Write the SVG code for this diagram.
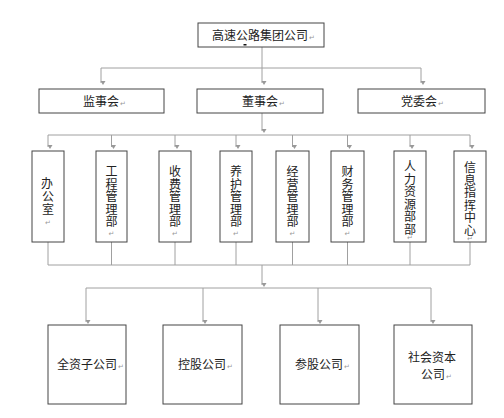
<svg xmlns="http://www.w3.org/2000/svg" width="504" height="418" viewBox="0 0 504 418">
<style>
.box{fill:#fff;stroke:#444;stroke-width:1}
.ln{fill:none;stroke:#a0a0a0;stroke-width:1}
.ar{fill:none;stroke:#a0a0a0;stroke-width:1;marker-end:url(#ah)}
.t{font-family:"Noto Sans CJK SC","Liberation Sans",sans-serif;font-size:12px;fill:#222}
.m{font-family:"DejaVu Sans",sans-serif;font-size:7px;fill:#999}
</style>
<defs>
<marker id="ah" markerUnits="userSpaceOnUse" markerWidth="6" markerHeight="6" refX="3" refY="5" orient="auto-start-reverse" viewBox="0 0 6 6">
<path d="M0.5,1 L5.5,1 L3,5 Z" fill="#999" transform="rotate(-90 3 3)"/>
</marker>
</defs>
<rect width="504" height="418" fill="#fff"/>
<g id="connectors">
<path class="ln" d="M262,47 V68 M101,68 H421"/>
<path class="ar" d="M101,68 V83"/>
<path class="ar" d="M262,68 V83"/>
<path class="ar" d="M421,68 V83"/>
<path class="ar" d="M262,113 V131"/>
<path class="ln" d="M48,135 H470"/>
<path class="ar" d="M48,135 V147"/>
<path class="ar" d="M111.5,135 V147"/>
<path class="ar" d="M175,135 V147"/>
<path class="ar" d="M236,135 V147"/>
<path class="ar" d="M292.5,135 V147"/>
<path class="ar" d="M347.5,135 V147"/>
<path class="ar" d="M410,135 V147"/>
<path class="ar" d="M470,135 V147"/>
<path class="ln" d="M48,242 V265 M111.5,242 V265 M175,242 V265 M236,242 V265 M292.5,242 V265 M347.5,242 V265 M410,242 V265 M470,242 V265 M48,265 H470"/>
<path class="ar" d="M262,265 V285"/>
<path class="ln" d="M86,288 H431"/>
<path class="ar" d="M86,288 V322"/>
<path class="ar" d="M203,288 V322"/>
<path class="ar" d="M318,288 V322"/>
<path class="ar" d="M431,288 V322"/>
</g>
<g id="n-group">
<rect class="box" x="198" y="23" width="126" height="24"/>
<text class="t" x="212" y="40">高速公路集团公司<tspan class="m" dx="1">↵</tspan></text>
<rect x="243.5" y="44" width="3" height="1.5" fill="#111"/>
</g>
<g id="n-jianshi">
<rect class="box" x="39" y="89" width="125" height="24"/>
<text class="t" x="83" y="106">监事会<tspan class="m" dx="1">↵</tspan></text>
</g>
<g id="n-dongshi">
<rect class="box" x="197" y="89" width="126" height="24"/>
<text class="t" x="242" y="106">董事会<tspan class="m" dx="1">↵</tspan></text>
</g>
<g id="n-dangwei">
<rect class="box" x="358" y="89" width="127" height="24"/>
<text class="t" x="401" y="106">党委会<tspan class="m" dx="1">↵</tspan></text>
</g>
<g id="n-bangong">
<rect class="box" x="32" y="151" width="32" height="91"/>
<text class="t" text-anchor="middle"><tspan x="47" y="188">办</tspan><tspan x="48" y="201">公</tspan><tspan x="48" y="214">室</tspan><tspan class="m" x="48" y="225">↵</tspan></text>
</g>
<g id="n-gongcheng">
<rect class="box" x="96" y="151" width="31" height="91"/>
<text class="t" text-anchor="middle"><tspan x="111.5" y="176">工</tspan><tspan x="111.5" y="188.5">程</tspan><tspan x="111.5" y="201">管</tspan><tspan x="111.5" y="213.5">理</tspan><tspan x="111.5" y="226">部</tspan><tspan class="m" x="111.5" y="236">↵</tspan></text>
</g>
<g id="n-shoufei">
<rect class="box" x="159" y="151" width="32" height="91"/>
<text class="t" text-anchor="middle"><tspan x="175" y="176">收</tspan><tspan x="175" y="188.5">费</tspan><tspan x="175" y="201">管</tspan><tspan x="175" y="213.5">理</tspan><tspan x="175" y="226">部</tspan><tspan class="m" x="175" y="236">↵</tspan></text>
</g>
<g id="n-yanghu">
<rect class="box" x="220" y="151" width="32" height="91"/>
<text class="t" text-anchor="middle"><tspan x="236" y="176">养</tspan><tspan x="236" y="188.5">护</tspan><tspan x="236" y="201">管</tspan><tspan x="236" y="213.5">理</tspan><tspan x="236" y="226">部</tspan><tspan class="m" x="236" y="236">↵</tspan></text>
</g>
<g id="n-jingying">
<rect class="box" x="276" y="151" width="33" height="91"/>
<text class="t" text-anchor="middle"><tspan x="292.5" y="176">经</tspan><tspan x="292.5" y="188.5">营</tspan><tspan x="292.5" y="201">管</tspan><tspan x="292.5" y="213.5">理</tspan><tspan x="292.5" y="226">部</tspan><tspan class="m" x="292.5" y="236">↵</tspan></text>
</g>
<g id="n-caiwu">
<rect class="box" x="331" y="151" width="33" height="91"/>
<text class="t" text-anchor="middle"><tspan x="347.5" y="176">财</tspan><tspan x="347.5" y="188.5">务</tspan><tspan x="347.5" y="201">管</tspan><tspan x="347.5" y="213.5">理</tspan><tspan x="347.5" y="226">部</tspan><tspan class="m" x="347.5" y="236">↵</tspan></text>
</g>
<g id="n-renli">
<rect class="box" x="394" y="151" width="32" height="91"/>
<text class="t" text-anchor="middle"><tspan x="410" y="171">人</tspan><tspan x="410" y="183.5">力</tspan><tspan x="410" y="196">资</tspan><tspan x="410" y="208.5">源</tspan><tspan x="410" y="221">部</tspan><tspan x="410" y="233.5">部</tspan><tspan class="m" x="410" y="240">↵</tspan></text>
</g>
<g id="n-xinxi">
<rect class="box" x="454" y="151" width="32" height="91"/>
<text class="t" text-anchor="middle"><tspan x="470" y="172">信</tspan><tspan x="470" y="184.5">息</tspan><tspan x="470" y="197">指</tspan><tspan x="470" y="209.5">挥</tspan><tspan x="470" y="222">中</tspan><tspan x="470" y="234.5">心</tspan><tspan class="m" x="470" y="241">↵</tspan></text>
</g>
<g id="n-quanzi">
<rect class="box" x="48" y="325" width="78" height="79"/>
<text class="t" x="57" y="369">全资子公司<tspan class="m" dx="1">↵</tspan></text>
</g>
<g id="n-konggu">
<rect class="box" x="163" y="325" width="79" height="79"/>
<text class="t" x="178" y="369">控股公司<tspan class="m" dx="1">↵</tspan></text>
</g>
<g id="n-cangu">
<rect class="box" x="280" y="325" width="79" height="79"/>
<text class="t" x="295" y="369">参股公司<tspan class="m" dx="1">↵</tspan></text>
</g>
<g id="n-shehui">
<rect class="box" x="394" y="325" width="78" height="79"/>
<text class="t" x="408" y="362">社会资本</text>
<text class="t" x="421" y="379">公司<tspan class="m" dx="1">↵</tspan></text>
</g>
</svg>
